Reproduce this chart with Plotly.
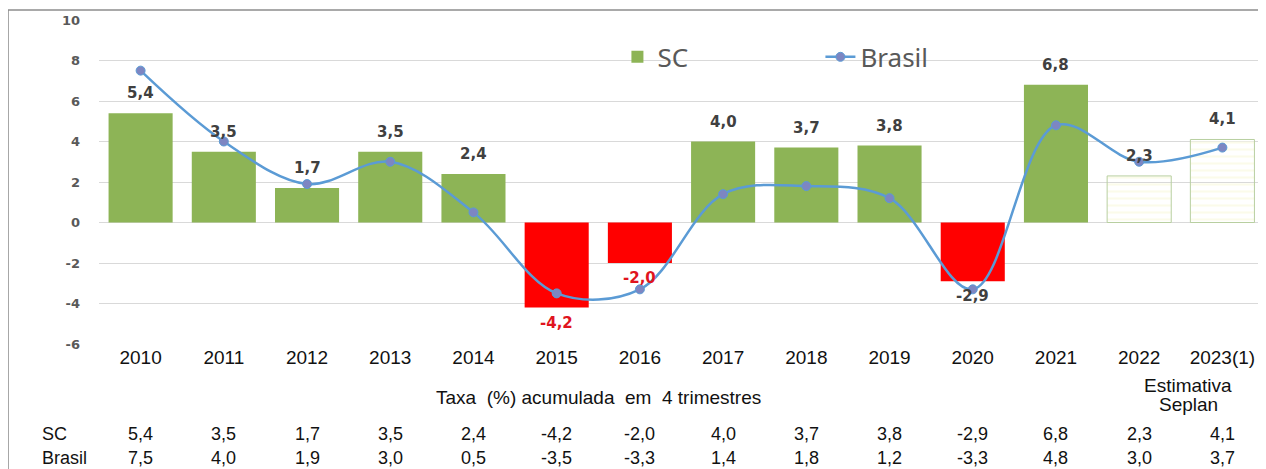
import plotly.graph_objects as go

years = ["2010", "2011", "2012", "2013", "2014", "2015", "2016", "2017",
         "2018", "2019", "2020", "2021", "2022", "2023(1)"]
sc = [5.4, 3.5, 1.7, 3.5, 2.4, -4.2, -2.0, 4.0, 3.7, 3.8, -2.9, 6.8, 2.3, 4.1]
brasil = [7.5, 4.0, 1.9, 3.0, 0.5, -3.5, -3.3, 1.4, 1.8, 1.2, -3.3, 4.8, 3.0, 3.7]
estimated = [False] * 12 + [True, True]

y_ticks = [-6, -4, -2, 0, 2, 4, 6, 8, 10]
y_ticktext = ["-6", "-4", "-2", "0", "2", "4", "6", "8", "10"]

GREEN = "#8DB456"
RED = "#FF0000"
HATCH_BG = "#FBFBEA"
HATCH_FG = "#93B877"
LINE = "#5B9BD5"
MARK = "#7D86C2"

xs = list(range(len(years)))

def fmt(v):
    return f"{v:.1f}".replace(".", ",")

bar_colors = []
for v, e in zip(sc, estimated):
    if e:
        bar_colors.append(HATCH_BG)
    elif v < 0:
        bar_colors.append(RED)
    else:
        bar_colors.append(GREEN)

fig = go.Figure()
fig.add_trace(go.Bar(
    x=xs, y=sc, name="SC",
    marker=dict(
        color=bar_colors,
        line=dict(color=["rgba(0,0,0,0)" if not e else "#B8CFA0" for e in estimated],
                  width=[0 if not e else 1 for e in estimated]),
        pattern=dict(shape=["-" if e else "" for e in estimated],
                     fgcolor=HATCH_FG, bgcolor=bar_colors, size=7, solidity=0.3,
                     fillmode="replace"),
    ),
    hoverinfo="skip",
))
fig.add_trace(go.Scatter(
    x=xs, y=brasil, name="Brasil", mode="lines+markers",
    line=dict(color=LINE, width=2.5, shape="spline", smoothing=1.0),
    marker=dict(color=MARK, size=9, line=dict(color=LINE, width=1)),
))

annotations = []
for i, v in enumerate(sc):
    col = "#404040"
    if v < 0 and i in (5, 6):
        col = "#E0141E"
    lf = dict(family="DejaVu Sans", size=15, color=col, weight="bold")
    if v >= 0:
        annotations.append(dict(x=i, y=v, xref="x", yref="y", text=fmt(v), showarrow=False,
                                yanchor="bottom", yshift=9, font=lf))
    else:
        annotations.append(dict(x=i, y=v, xref="x", yref="y", text=fmt(v), showarrow=False,
                                yanchor="top", yshift=-4, font=lf))

tfont = dict(family="Liberation Sans, Arial", size=19, color="#111111")
rfont = dict(family="Liberation Sans, Arial", size=18, color="#111111")
# table below the chart
annotations.append(dict(x=-0.0506, y=-0.278, xref="paper", yref="paper", text="SC",
                        showarrow=False, xanchor="left", yanchor="middle", font=rfont))
annotations.append(dict(x=-0.0506, y=-0.352, xref="paper", yref="paper", text="Brasil",
                        showarrow=False, xanchor="left", yanchor="middle", font=rfont))
for i in xs:
    annotations.append(dict(x=i, y=-0.278, xref="x", yref="paper", text=fmt(sc[i]),
                            showarrow=False, yanchor="middle", font=rfont))
    annotations.append(dict(x=i, y=-0.352, xref="x", yref="paper", text=fmt(brasil[i]),
                            showarrow=False, yanchor="middle", font=rfont))
annotations.append(dict(x=5.5, y=-0.1636, xref="x", yref="paper",
                        text="Taxa\u00a0 (%)\u00a0acumulada\u00a0 em\u00a0 4 trimestres",
                        showarrow=False, yanchor="middle", font=tfont))
annotations.append(dict(x=12.59, y=-0.1296, xref="x", yref="paper", text="Estimativa",
                        showarrow=False, yanchor="middle", font=tfont))
annotations.append(dict(x=12.59, y=-0.188, xref="x", yref="paper", text="Seplan",
                        showarrow=False, yanchor="middle", font=tfont))

shapes = [
    dict(type="line", xref="paper", yref="paper", x0=-0.0781, x1=1.01, y0=1.0309, y1=1.0309,
         line=dict(color="#8C8C8C", width=1.5)),
    dict(type="line", xref="paper", yref="paper", x0=-0.0781, x1=-0.0781, y0=1.0309, y1=-0.45,
         line=dict(color="#8C8C8C", width=1.5)),
]

fig.update_layout(
    width=1258, height=461,
    margin=dict(l=91, r=2, t=12, b=125),
    paper_bgcolor="white", plot_bgcolor="white",
    bargap=0.23,
    showlegend=True,
    legend=dict(orientation="h", x=0.445, y=0.886, xanchor="left", yanchor="middle",
                font=dict(family="Noto Sans", size=26, color="#595959"),
                entrywidth=158, bgcolor="rgba(0,0,0,0)"),
    xaxis=dict(tickmode="array", tickvals=xs, ticktext=years, range=[-0.5, len(years) - 0.5],
               showgrid=False, zeroline=False, showline=False, ticks="",
               tickfont=tfont),
    yaxis=dict(range=[-6, 10], tickmode="array", tickvals=y_ticks, ticktext=y_ticktext,
               showgrid=True, gridcolor="#D9D9D9", gridwidth=1,
               zeroline=True, zerolinecolor="#D9D9D9", zerolinewidth=1, showline=False,
               ticks="", ticklabelstandoff=18,
               tickfont=dict(family="DejaVu Sans", size=13, color="#595959", weight="bold")),
    annotations=annotations,
    shapes=shapes,
)

fig.write_html("out.html")
